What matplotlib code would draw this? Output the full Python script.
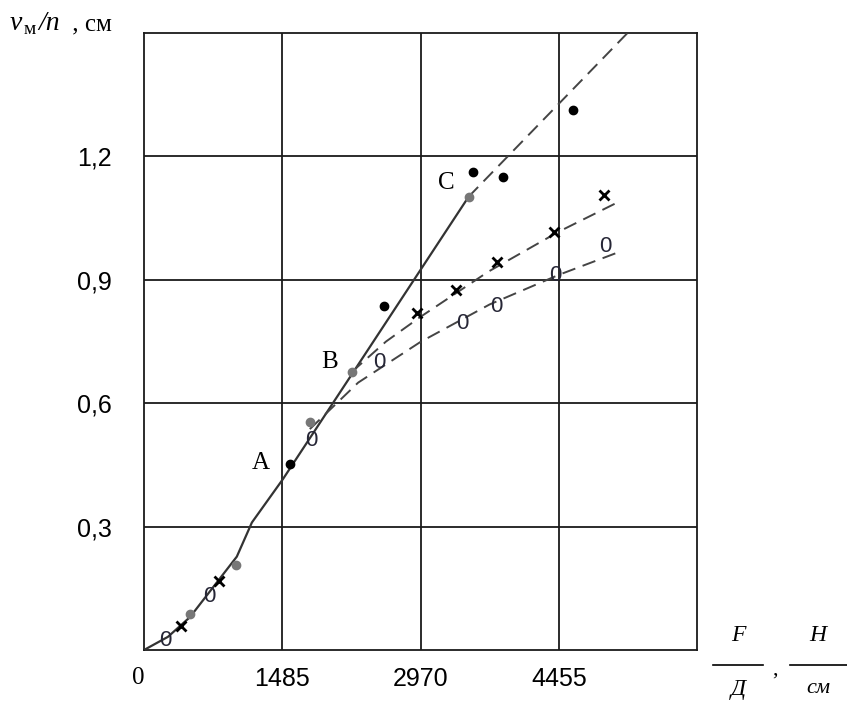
import matplotlib
matplotlib.use('Agg')
import matplotlib.pyplot as plt

# данные ---------------------------------------------
x_ticks = [0, 1485, 2970, 4455]
x_tick_labels = ['0', '1485', '2970', '4455']
y_ticks = [0.3, 0.6, 0.9, 1.2]
y_tick_labels = ['0,3', '0,6', '0,9', '1,2']

# сплошная линия 0 - A - B - C
solid_x = [0, 257, 494, 997, 1159, 1491, 3487]
solid_y = [0, 0.032, 0.080, 0.227, 0.31, 0.415, 1.102]

# штриховые продолжения
dash_c_x = [3487, 5215]
dash_c_y = [1.102, 1.505]
dash_x_x = [2232, 2600, 2970, 3700, 4455, 5129]
dash_x_y = [0.676, 0.75, 0.81, 0.92, 1.017, 1.093]
dash_o_x = [1781, 2300, 2970, 3712, 4455, 5107]
dash_o_y = [0.537, 0.65, 0.749, 0.84, 0.912, 0.968]

# точки
black_x = [1567, 2575, 3530, 3852, 4603]
black_y = [0.451, 0.837, 1.163, 1.151, 1.312]
gray_x = [494, 987, 1781, 2232, 3487]
gray_y = [0.088, 0.207, 0.554, 0.676, 1.102]
cross_x = [397, 805, 2929, 3348, 3788, 4400, 4936]
cross_y = [0.059, 0.168, 0.82, 0.876, 0.944, 1.015, 1.107]
zero_x = [225, 697, 1792, 2532, 3423, 3788, 4421, 4957]
zero_y = [0.022, 0.129, 0.51, 0.70, 0.793, 0.834, 0.91, 0.98]

point_labels = ['A', 'B', 'C']
point_label_x = [1250, 1990, 3250]
point_label_y = [0.455, 0.70, 1.135]

# график ---------------------------
serif = 'Liberation Serif'
fig = plt.figure(figsize=(8.47, 7.04), dpi=100)
ax = fig.add_axes([144/847, 1 - 650/704, 553/847, 617/704])
ax.set_xlim(0, 5940)
ax.set_ylim(0, 1.5)

for v in x_ticks[1:]:
    ax.axvline(v, color='#1a1a1a', lw=1.3, zorder=1)
for v in y_ticks:
    ax.axhline(v, color='#1a1a1a', lw=1.3, zorder=1)
for s in ax.spines.values():
    s.set_color('#1a1a1a')
    s.set_linewidth(1.3)

ax.plot(solid_x, solid_y, color='#333333', lw=1.6, zorder=3)
for xs, ys in [(dash_c_x, dash_c_y), (dash_x_x, dash_x_y), (dash_o_x, dash_o_y)]:
    ax.plot(xs, ys, color='#444444', lw=1.4, dashes=(7, 4), zorder=3)

ax.plot(black_x, black_y, 'o', color='black', ms=6, zorder=4)
ax.plot(gray_x, gray_y, 'o', color='#777777', ms=6, zorder=4)
ax.plot(cross_x, cross_y, 'x', color='black', ms=7, mew=2, zorder=4)
# кружки "0" как текст
for xx, yy in zip(zero_x, zero_y):
    ax.text(xx, yy, '0', family='Liberation Sans', fontsize=16, color='#262636',
            ha='center', va='center', zorder=4)

for t, xx, yy in zip(point_labels, point_label_x, point_label_y):
    ax.text(xx, yy, t, fontsize=18, family=serif, ha='center', va='center')

ax.set_xticks(x_ticks)
ax.set_xticklabels(x_tick_labels)
ax.set_yticks(y_ticks)
ax.set_yticklabels(y_tick_labels)
ax.tick_params(length=0)
ax.tick_params(axis='x', pad=12)
ax.tick_params(axis='y', pad=23)
for lb in ax.get_xticklabels():
    lb.set_family('Liberation Sans')
    lb.set_fontsize(18)
ax.get_xticklabels()[0].set_family(serif)
ax.get_xticklabels()[0].set_ha('right')
for lb in ax.get_yticklabels():
    lb.set_family('Liberation Sans')
    lb.set_fontsize(18)

# подпись оси y
fig.text(10/847, 1 - 30/704, 'v', family=serif, style='italic', fontsize=20, va='baseline')
fig.text(24/847, 1 - 34/704, 'м', family=serif, fontsize=14, va='baseline')
fig.text(38/847, 1 - 30/704, '/n', family=serif, style='italic', fontsize=20, va='baseline')
fig.text(66/847, 1 - 30/704, ' , см', family=serif, fontsize=18, va='baseline')

# подпись оси x (дроби)
fig.text(738/847, 1 - 641/704, 'F', family=serif, style='italic', fontsize=17, ha='center', va='baseline')
fig.text(738/847, 1 - 695/704, 'Д', family=serif, style='italic', fontsize=17, ha='center', va='baseline')
fig.add_artist(plt.Line2D([713/847, 763/847], [1 - 665/704] * 2, color='black', lw=1.2))
fig.text(775/847, 1 - 675/704, ',', family=serif, fontsize=16, ha='center', va='baseline')
fig.text(818/847, 1 - 641/704, 'H', family=serif, style='italic', fontsize=17, ha='center', va='baseline')
fig.text(818/847, 1 - 693/704, 'см', family=serif, style='italic', fontsize=16, ha='center', va='baseline')
fig.add_artist(plt.Line2D([790/847, 847/847], [1 - 665/704] * 2, color='black', lw=1.2))

fig.savefig('out.png', dpi=100)
